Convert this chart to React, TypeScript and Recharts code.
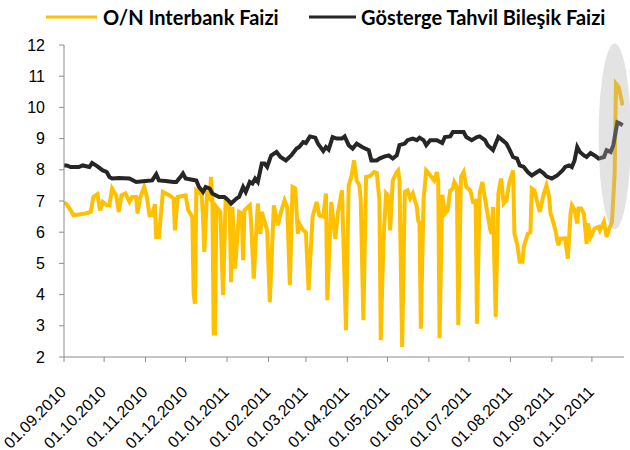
import { LineChart, Line, XAxis, YAxis, ReferenceDot } from 'recharts';

// O/N Interbank Faizi (yellow)
const onDates = [
  '01.09.2010', '03.09.2010', '06.09.2010', '08.09.2010', '12.09.2010', '17.09.2010', '21.09.2010', '23.09.2010',
  '26.09.2010', '28.09.2010', '30.09.2010', '03.10.2010', '05.10.2010', '07.10.2010', '10.10.2010', '12.10.2010',
  '14.10.2010', '17.10.2010', '20.10.2010', '22.10.2010', '25.10.2010', '26.10.2010', '28.10.2010', '31.10.2010',
  '02.11.2010', '04.11.2010', '06.11.2010', '08.11.2010', '09.11.2010', '11.11.2010', '14.11.2010', '19.11.2010',
  '22.11.2010', '23.11.2010', '25.11.2010', '01.12.2010', '03.12.2010', '06.12.2010', '07.12.2010', '08.12.2010',
  '09.12.2010', '13.12.2010', '14.12.2010', '15.12.2010', '17.12.2010', '19.12.2010', '20.12.2010', '21.12.2010',
  '22.12.2010', '23.12.2010', '24.12.2010', '27.12.2010', '29.12.2010', '31.12.2010', '03.01.2011', '04.01.2011',
  '05.01.2011', '07.01.2011', '10.01.2011', '12.01.2011', '13.01.2011', '14.01.2011', '18.01.2011', '19.01.2011',
  '21.01.2011', '24.01.2011', '26.01.2011', '27.01.2011', '31.01.2011', '02.02.2011', '05.02.2011', '08.02.2011',
  '10.02.2011', '13.02.2011', '15.02.2011', '17.02.2011', '19.02.2011', '21.02.2011', '23.02.2011', '24.02.2011',
  '27.02.2011', '01.03.2011', '03.03.2011', '06.03.2011', '09.03.2011', '11.03.2011', '14.03.2011', '16.03.2011',
  '17.03.2011', '20.03.2011', '23.03.2011', '25.03.2011', '28.03.2011', '31.03.2011', '02.04.2011', '04.04.2011',
  '06.04.2011', '08.04.2011', '10.04.2011', '11.04.2011', '13.04.2011', '15.04.2011', '18.04.2011', '21.04.2011',
  '23.04.2011', '25.04.2011', '26.04.2011', '28.04.2011', '30.04.2011', '02.05.2011', '03.05.2011', '05.05.2011',
  '08.05.2011', '09.05.2011', '10.05.2011', '12.05.2011', '14.05.2011', '16.05.2011', '18.05.2011', '20.05.2011',
  '23.05.2011', '24.05.2011', '25.05.2011', '26.05.2011', '28.05.2011', '30.05.2011', '31.05.2011', '03.06.2011',
  '05.06.2011', '07.06.2011', '08.06.2011', '09.06.2011', '11.06.2011', '13.06.2011', '15.06.2011', '17.06.2011',
  '19.06.2011', '20.06.2011', '22.06.2011', '23.06.2011', '25.06.2011', '27.06.2011', '29.06.2011', '02.07.2011',
  '04.07.2011', '06.07.2011', '07.07.2011', '09.07.2011', '11.07.2011', '12.07.2011', '14.07.2011', '17.07.2011',
  '18.07.2011', '19.07.2011', '21.07.2011', '23.07.2011', '25.07.2011', '27.07.2011', '29.07.2011', '31.07.2011',
  '03.08.2011', '04.08.2011', '06.08.2011', '08.08.2011', '10.08.2011', '11.08.2011', '14.08.2011', '16.08.2011',
  '17.08.2011', '19.08.2011', '22.08.2011', '23.08.2011', '26.08.2011', '28.08.2011', '30.08.2011', '31.08.2011',
  '02.09.2011', '04.09.2011', '05.09.2011', '06.09.2011', '07.09.2011', '11.09.2011', '13.09.2011', '15.09.2011',
  '16.09.2011', '18.09.2011', '20.09.2011', '21.09.2011', '23.09.2011', '25.09.2011', '27.09.2011', '28.09.2011',
  '30.09.2011', '03.10.2011', '06.10.2011', '07.10.2011', '10.10.2011', '12.10.2011', '14.10.2011', '16.10.2011',
  '18.10.2011', '19.10.2011', '21.10.2011', '24.10.2011',
];
const onValues = [
  6.95, 6.9, 6.7, 6.55, 6.57, 6.6, 6.65, 7.13,
  7.22, 6.7, 6.97, 6.86, 6.86, 7.4, 7.18, 6.65,
  7.18, 7.24, 6.97, 7.13, 7.13, 6.6, 7.1, 7.45,
  7.13, 6.54, 6.54, 6.9, 5.85, 5.85, 7.29, 7.18,
  7.08, 6.06, 7.13, 7.18, 6.7, 6.49, 4.03, 3.71,
  7.34, 7.2, 6.5, 5.37, 7.24, 7.1, 7.77, 7.1,
  2.75, 2.75, 6.81, 6.65, 3.98, 7.13, 6.7, 4.4,
  6.81, 4.83, 6.65, 6.6, 5.1, 6.7, 6.86, 6.33,
  4.51, 6.92, 5.95, 6.65, 6.06, 3.76, 6.86, 6.22,
  6.6, 7.02, 6.8, 4.3, 7.45, 7.4, 5.95, 6.28,
  6.06, 6.0, 4.14, 6.49, 6.97, 6.54, 6.5, 7.24,
  3.82, 6.97, 5.79, 6.65, 7.34, 2.86, 7.5, 7.77,
  8.3, 7.66, 7.5, 7.05, 3.18, 7.77, 7.8, 7.93,
  7.9, 7.02, 2.54, 5.74, 7.24, 7.13, 6.06, 7.66,
  7.93, 7.98, 7.66, 2.32, 7.29, 7.34, 7.08, 7.24,
  6.81, 6.38, 6.3, 2.91, 7.02, 7.98, 7.93, 7.77,
  7.66, 7.93, 7.66, 2.6, 7.2, 6.6, 6.7, 7.34,
  7.4, 7.61, 7.45, 3.02, 7.77, 7.93, 7.45, 7.34,
  6.97, 7.0, 3.07, 7.24, 7.61, 7.34, 6.81, 6.06,
  5.95, 6.81, 3.28, 7.24, 7.72, 6.92, 7.02, 7.56,
  7.98, 5.95, 5.63, 5.05, 5.05, 5.53, 5.95, 6.0,
  7.4, 7.34, 6.81, 6.65, 7.24, 7.5, 7.13, 6.6,
  6.33, 6.01, 5.74, 5.58, 5.79, 5.8, 5.15, 6.6,
  6.86, 6.72, 6.28, 6.76, 6.76, 6.6, 5.63, 6.28,
  5.85, 6.12, 6.17, 6.06, 6.33, 5.85, 6.12, 6.33,
  7.88, 10.76, 10.65, 10.07,
];

// Gösterge Tahvil Bileşik Faizi (dark)
const bondDates = [
  '01.09.2010', '03.09.2010', '06.09.2010', '12.09.2010', '15.09.2010', '20.09.2010', '22.09.2010', '26.09.2010',
  '30.09.2010', '03.10.2010', '05.10.2010', '07.10.2010', '12.10.2010', '20.10.2010', '25.10.2010', '01.11.2010',
  '06.11.2010', '09.11.2010', '11.11.2010', '16.11.2010', '22.11.2010', '24.11.2010', '28.11.2010', '29.11.2010',
  '01.12.2010', '05.12.2010', '09.12.2010', '11.12.2010', '14.12.2010', '16.12.2010', '19.12.2010', '21.12.2010',
  '26.12.2010', '30.12.2010', '02.01.2011', '04.01.2011', '08.01.2011', '10.01.2011', '13.01.2011', '15.01.2011',
  '18.01.2011', '20.01.2011', '22.01.2011', '24.01.2011', '27.01.2011', '29.01.2011', '31.01.2011', '03.02.2011',
  '07.02.2011', '10.02.2011', '14.02.2011', '18.02.2011', '22.02.2011', '24.02.2011', '27.02.2011', '01.03.2011',
  '04.03.2011', '08.03.2011', '10.03.2011', '14.03.2011', '16.03.2011', '18.03.2011', '21.03.2011', '24.03.2011',
  '28.03.2011', '30.03.2011', '02.04.2011', '05.04.2011', '08.04.2011', '12.04.2011', '17.04.2011', '19.04.2011',
  '23.04.2011', '25.04.2011', '29.04.2011', '02.05.2011', '05.05.2011', '08.05.2011', '10.05.2011', '14.05.2011',
  '16.05.2011', '20.05.2011', '23.05.2011', '25.05.2011', '28.05.2011', '30.05.2011', '02.06.2011', '07.06.2011',
  '11.06.2011', '13.06.2011', '17.06.2011', '19.06.2011', '23.06.2011', '27.06.2011', '29.06.2011', '03.07.2011',
  '07.07.2011', '09.07.2011', '13.07.2011', '15.07.2011', '19.07.2011', '23.07.2011', '26.07.2011', '29.07.2011',
  '31.07.2011', '03.08.2011', '06.08.2011', '08.08.2011', '11.08.2011', '14.08.2011', '17.08.2011', '21.08.2011',
  '23.08.2011', '26.08.2011', '28.08.2011', '01.09.2011', '05.09.2011', '09.09.2011', '11.09.2011', '14.09.2011',
  '16.09.2011', '18.09.2011', '20.09.2011', '22.09.2011', '25.09.2011', '27.09.2011', '30.09.2011', '04.10.2011',
  '06.10.2011', '10.10.2011', '12.10.2011', '15.10.2011', '17.10.2011', '20.10.2011', '22.10.2011', '24.10.2011',
];
const bondValues = [
  8.14, 8.14, 8.09, 8.09, 8.14, 8.09, 8.22, 8.11,
  7.98, 7.93, 7.77, 7.72, 7.74, 7.72, 7.61, 7.64,
  7.66, 7.86, 7.66, 7.64, 7.61, 7.61, 7.82, 7.88,
  7.72, 7.69, 7.66, 7.45, 7.29, 7.45, 7.4, 7.24,
  7.13, 7.13, 7.02, 6.92, 7.08, 7.13, 7.45, 7.29,
  7.61, 7.56, 7.72, 7.61, 8.2, 8.2, 8.09, 8.46,
  8.57, 8.41, 8.3, 8.46, 8.68, 8.73, 8.89, 8.86,
  9.07, 9.03, 8.84, 8.6, 8.73, 8.65, 9.05, 9.0,
  9.0, 9.07, 8.79, 8.68, 8.84, 8.73, 8.63, 8.3,
  8.3, 8.36, 8.43, 8.46, 8.36, 8.46, 8.79, 8.84,
  8.95, 9.0, 8.95, 9.03, 8.95, 8.79, 8.95, 8.95,
  8.86, 9.05, 9.07, 9.21, 9.21, 9.21, 9.05, 8.95,
  9.05, 9.07, 8.95, 8.79, 8.63, 9.05, 8.95, 8.84,
  8.68, 8.41, 8.36, 8.14, 8.09, 7.93, 7.82, 7.93,
  7.98, 7.88, 7.79, 7.72, 7.82, 7.98, 8.09, 8.14,
  8.09, 8.3, 8.73, 8.57, 8.46, 8.41, 8.54, 8.43,
  8.36, 8.41, 8.63, 8.57, 8.79, 9.52, 9.48, 9.43,
];

const tickLabels = [
  '01.09.2010', '01.10.2010', '01.11.2010', '01.12.2010', '01.01.2011', '01.02.2011', '01.03.2011',
  '01.04.2011', '01.05.2011', '01.06.2011', '01.07.2011', '01.08.2011', '01.09.2011', '01.10.2011',
];
const yTicks = [2, 3, 4, 5, 6, 7, 8, 9, 10, 11, 12];

const toTime = (s: string) => {
  const [d, m, y] = s.split('.').map(Number);
  return Date.UTC(y, m - 1, d);
};

const onData = onDates.map((d, i) => ({ t: toTime(d), v: onValues[i] }));
const bondData = bondDates.map((d, i) => ({ t: toTime(d), v: bondValues[i] }));
const tickTimes = tickLabels.map(toTime);

const YELLOW = '#FFC000';
const DARK = '#262626';
const AXIS = '#8c8c8c';
const FONT = '"Liberation Sans", Arial, sans-serif';

function DateTick({ x, y, payload }: any) {
  const label = tickLabels[tickTimes.indexOf(payload.value)];
  const ax = x + 3;
  const ay = y + 29;
  return (
      <text x={ax} y={ay} transform={`rotate(-45 ${ax} ${ay})`} textAnchor="end"
            fontSize={16} fontFamily={FONT} fill="#000">
        {label}
      </text>
  );
}

function Highlight({ cx, cy }: any) {
  return <ellipse cx={cx} cy={cy} rx={16} ry={93} fill="#b0b0b0" fillOpacity={0.35} />;
}

export default function App() {
  return (
      <div style={{ position: 'absolute', left: 0, top: 0, width: 630, height: 450, background: '#fff' }}>
        <svg width={630} height={36} style={{ position: 'absolute', left: 0, top: 0 }}>
          <line x1={46} x2={97} y1={17} y2={17} stroke={YELLOW} strokeWidth={3} />
          <text x={103} y={24.5} fontFamily="Lato" fontWeight={700} fontSize={20} fill="#000">
            O/N Interbank Faizi
          </text>
          <line x1={309} x2={356} y1={17} y2={17} stroke={DARK} strokeWidth={3} />
          <text x={361} y={24.5} fontFamily="Lato" fontWeight={700} fontSize={20} fill="#000">
            Gösterge Tahvil Bileşik Faizi
          </text>
        </svg>
        <LineChart width={630} height={450} margin={{ top: 45, right: 6, left: 0, bottom: 3 }}>
          <XAxis
              type="number"
              dataKey="t"
              domain={[toTime('01.09.2010'), toTime('25.10.2011')]}
              ticks={tickTimes}
              tick={<DateTick />}
              interval={0}
              stroke={AXIS}
              tickSize={5}
              height={90}
              allowDataOverflow
          />
          <YAxis
              type="number"
              domain={[2, 12]}
              ticks={yTicks}
              interval={0}
              stroke={AXIS}
              tickSize={5}
              tickMargin={14}
              width={64}
              tick={{ fill: '#000', fontSize: 16, fontFamily: FONT }}
          />
          <Line data={onData} dataKey="v" type="linear" stroke={YELLOW} strokeWidth={4}
                dot={false} isAnimationActive={false} />
          <Line data={bondData} dataKey="v" type="linear" stroke={DARK} strokeWidth={4}
                dot={false} isAnimationActive={false} />
          <ReferenceDot x={toTime('18.10.2011')} y={9.07} ifOverflow="visible" shape={<Highlight />} />
        </LineChart>
      </div>
  );
}
